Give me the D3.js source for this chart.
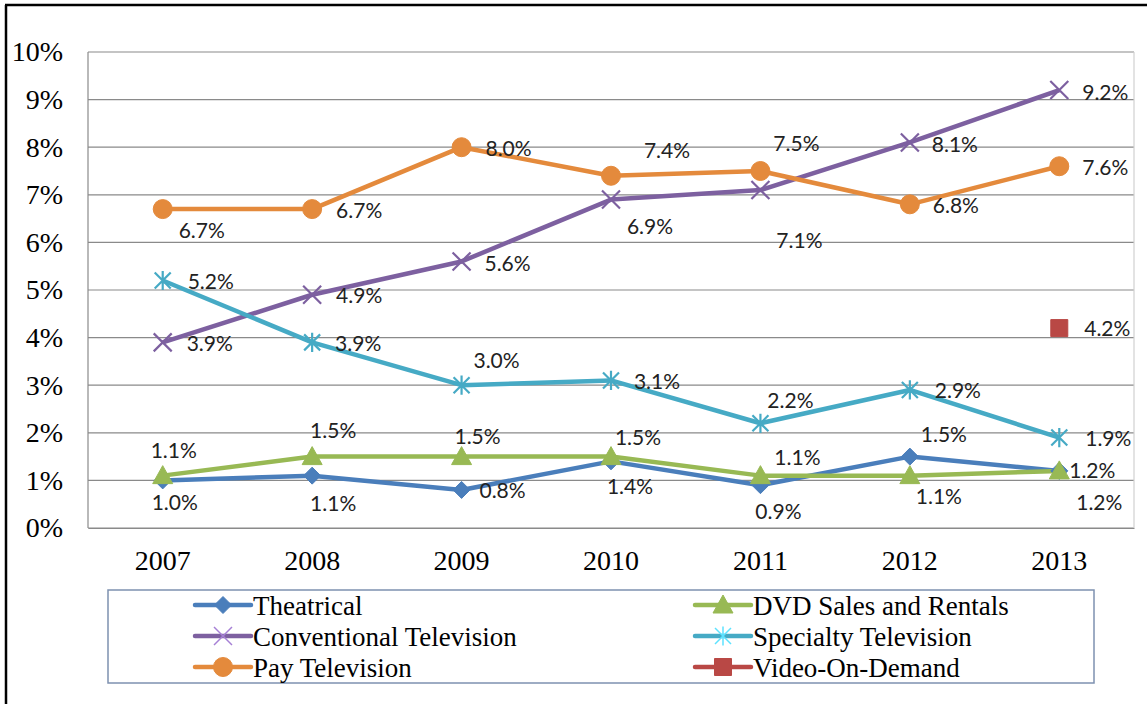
<!DOCTYPE html>
<html>
<head>
<meta charset="utf-8">
<script src="https://cdn.jsdelivr.net/npm/d3@7"></script>
<style>
  body { margin: 0; background: #fff; }
  svg { display: block; }
</style>
</head>
<body>
<script>
var years = ["2007", "2008", "2009", "2010", "2011", "2012", "2013"];
var yTicks = [0, 1, 2, 3, 4, 5, 6, 7, 8, 9, 10];

var theatrical = [1.0, 1.1, 0.8, 1.4, 0.9, 1.5, 1.2];
var dvd = [1.1, 1.5, 1.5, 1.5, 1.1, 1.1, 1.2];
var conventional = [3.9, 4.9, 5.6, 6.9, 7.1, 8.1, 9.2];
var specialty = [5.2, 3.9, 3.0, 3.1, 2.2, 2.9, 1.9];
var pay = [6.7, 6.7, 8.0, 7.4, 7.5, 6.8, 7.6];
var vod = [null, null, null, null, null, null, 4.2];

var seriesNames = ["Theatrical", "DVD Sales and Rentals", "Conventional Television",
  "Specialty Television", "Pay Television", "Video-On-Demand"];

var width = 1147;
var height = 704;

var svg = d3.select("body").append("svg").attr("width", width).attr("height", height);

// outer frame (top and left only, like the crop)
svg.append("line").attr("x1", 5).attr("x2", width).attr("y1", 5).attr("y2", 5)
  .attr("stroke", "#000").attr("stroke-width", 2.5);
svg.append("line").attr("x1", 6).attr("x2", 6).attr("y1", 5).attr("y2", height)
  .attr("stroke", "#000").attr("stroke-width", 2.5);

var xScale = d3.scaleBand().domain(years).range([88, 1134]);
var yScale = d3.scaleLinear().domain([0, 10]).range([528, 52]);
var cx = function(i) { return xScale(years[i]) + xScale.bandwidth() / 2; };

// gridlines
svg.append("g").selectAll("line").data(yTicks).enter().append("line")
  .attr("x1", 88).attr("x2", 1134)
  .attr("y1", function(d) { return yScale(d); })
  .attr("y2", function(d) { return yScale(d); })
  .attr("stroke", "#8a8a8a").attr("stroke-width", 1.2);
svg.append("line").attr("x1", 88).attr("x2", 88).attr("y1", 52).attr("y2", 528)
  .attr("stroke", "#8a8a8a").attr("stroke-width", 1.2);
svg.append("line").attr("x1", 1134).attr("x2", 1134).attr("y1", 52).attr("y2", 528)
  .attr("stroke", "#d0d0d0").attr("stroke-width", 1.2);

var axisy = d3.axisLeft(yScale).tickValues(yTicks).tickSize(0).tickPadding(25)
  .tickFormat(function(d) { return d + "%"; });
var gy = svg.append("g").attr("transform", "translate(88,0)").call(axisy);
gy.select(".domain").remove();
gy.selectAll("text").attr("font-family", "Liberation Serif, Times New Roman, serif")
  .attr("font-size", 28).attr("fill", "#000");

var axisx = d3.axisBottom(xScale).tickSize(0).tickPadding(22);
var gx = svg.append("g").attr("transform", "translate(0,528)").call(axisx);
gx.select(".domain").attr("stroke", "#8a8a8a").attr("stroke-width", 1.2);
gx.selectAll("text").attr("font-family", "Liberation Serif, Times New Roman, serif")
  .attr("font-size", 28).attr("fill", "#000");

// marker shapes
function markerPath(type, s) {
  var h = s / 2;
  if (type === "diamond") return "M0," + (-h) + "L" + h + ",0L0," + h + "L" + (-h) + ",0Z";
  if (type === "triangle") return "M0," + (-h) + "L" + h + "," + (h * 0.8) + "L" + (-h) + "," + (h * 0.8) + "Z";
  if (type === "square") return "M" + (-h) + "," + (-h) + "H" + h + "V" + h + "H" + (-h) + "Z";
  if (type === "x") return "M" + (-h) + "," + (-h) + "L" + h + "," + h + "M" + h + "," + (-h) + "L" + (-h) + "," + h;
  if (type === "star") return "M" + (-h) + "," + (-h) + "L" + h + "," + h + "M" + h + "," + (-h) + "L" + (-h) + "," + h +
    "M0," + (-h * 1.2) + "L0," + (h * 1.2);
  return d3.symbol(d3.symbolCircle, s * s * 0.785)();
}

var series = [
  { name: seriesNames[0], values: theatrical, color: "#4a7ebb", marker: "diamond", size: 17, filled: true,
    offsets: [[12, 22], [21, 28], [41, 1], [19, 25], [18, 26], [34, -22], [33, 0]] },
  { name: seriesNames[1], values: dvd, color: "#98b954", marker: "triangle", size: 20, filled: true,
    offsets: [[11, -25], [21, -26], [16, -20], [27, -19], [37, -18], [29, 21], [40, 32]] },
  { name: seriesNames[2], values: conventional, color: "#7d60a0", marker: "x", size: 18, filled: false,
    offsets: [[47, 1], [47, 1], [46, 2], [39, 27], [39, 50], [45, 2], [46, 2]] },
  { name: seriesNames[3], values: specialty, color: "#46aac5", marker: "star", size: 16, filled: false,
    offsets: [[48, 1], [46, 1], [35, -25], [46, 1], [30, -23], [48, 0], [49, 1]] },
  { name: seriesNames[4], values: pay, color: "#e48a3c", marker: "circle", size: 19, filled: true,
    offsets: [[39, 21], [47, 1], [47, 1], [56, -25], [36, -28], [46, 1], [46, 1]] },
  { name: seriesNames[5], values: vod, color: "#b94845", marker: "square", size: 17, filled: true,
    offsets: [null, null, null, null, null, null, [48, 0]] }
];

var line = d3.line()
  .defined(function(d) { return d != null; })
  .x(function(d, i) { return cx(i); })
  .y(function(d) { return yScale(d); });

series.forEach(function(s) {
  svg.append("path").attr("d", line(s.values)).attr("fill", "none")
    .attr("stroke", s.color).attr("stroke-width", 4.5).attr("stroke-linejoin", "round");
});

series.forEach(function(s) {
  var pts = s.values.map(function(v, i) { return { v: v, i: i }; })
    .filter(function(p) { return p.v != null; });
  var g = svg.append("g");
  g.selectAll("path").data(pts).enter().append("path")
    .attr("transform", function(p) { return "translate(" + cx(p.i) + "," + yScale(p.v) + ")"; })
    .attr("d", markerPath(s.marker, s.size))
    .attr("fill", s.filled ? s.color : "none")
    .attr("stroke", s.color)
    .attr("stroke-width", s.filled ? 1 : 2.2);
  g.selectAll("text").data(pts).enter().append("text")
    .attr("x", function(p) { return cx(p.i) + s.offsets[p.i][0]; })
    .attr("y", function(p) { return yScale(p.v) + s.offsets[p.i][1]; })
    .attr("dy", "0.36em")
    .attr("text-anchor", "middle")
    .attr("font-family", "Lato, Open Sans, sans-serif")
    .attr("font-size", 21)
    .attr("fill", "#222")
    .text(function(p) { return p.v.toFixed(1) + "%"; });
});

// legend
svg.append("rect").attr("x", 108).attr("y", 590).attr("width", 986).attr("height", 93)
  .attr("fill", "#fff").attr("stroke", "#7e91b0").attr("stroke-width", 1.5);

var legendCols = [195, 695];
var legendRows = [605, 636, 667];
series.forEach(function(s, k) {
  var lx = legendCols[k % 2];
  var ly = legendRows[Math.floor(k / 2)];
  var g = svg.append("g").attr("transform", "translate(" + lx + "," + ly + ")");
  g.append("line").attr("x1", 0).attr("x2", 56).attr("y1", 0).attr("y2", 0)
    .attr("stroke", s.color).attr("stroke-width", 4.5).attr("stroke-linecap", "round");
  g.append("path").attr("transform", "translate(28,0)")
    .attr("d", markerPath(s.marker, s.size))
    .attr("fill", s.filled ? s.color : "none")
    .attr("stroke", s.filled ? s.color : d3.color(s.color).brighter(0.8))
    .attr("stroke-width", s.filled ? 1 : 1.5);
  g.append("text").attr("x", 58).attr("y", 10)
    .attr("font-family", "Liberation Serif, Times New Roman, serif")
    .attr("font-size", 27).attr("fill", "#000")
    .text(s.name);
});
</script>
</body>
</html>
